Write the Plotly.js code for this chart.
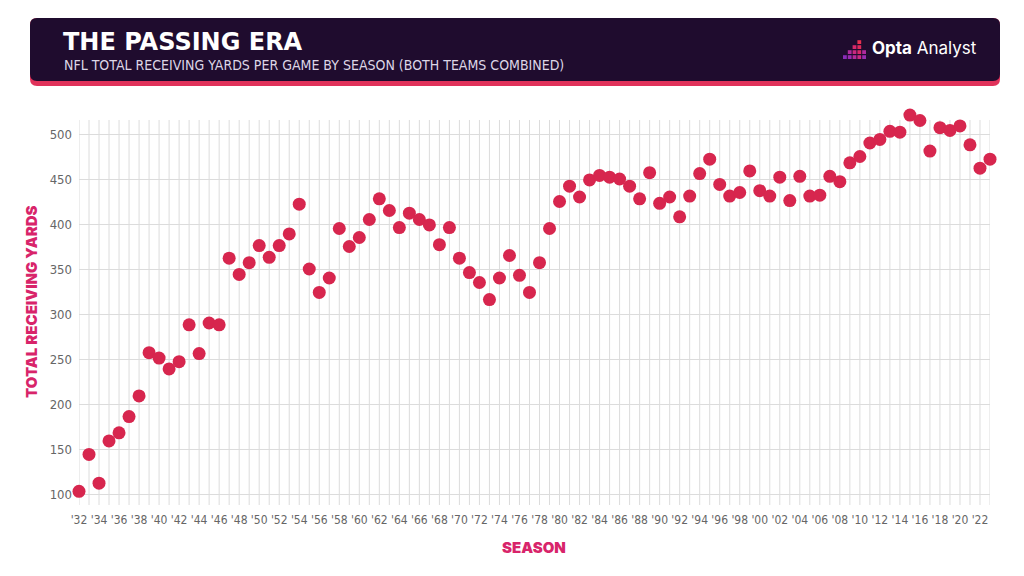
<!DOCTYPE html>
<html>
<head>
<meta charset="utf-8">
<script src="https://cdn.plot.ly/plotly-3.0.1.min.js"></script>
<style>
html,body{margin:0;padding:0;background:#ffffff;}
#chart{width:1024px;height:576px;}
</style>
</head>
<body>
<div id="chart"></div>
<script>
// ---- DATA ----
const seasons = [];
for (let y = 1932; y <= 2023; y++) seasons.push(y);

const receivingYards = [
  103, 144, 112, 159, 168, 186, 209, 257, 251, 239,   // 1932-1941
  247, 288, 256, 290, 288, 362, 344, 357, 376, 363,   // 1942-1951
  376, 389, 422, 350, 324, 340, 395, 375, 385, 405,   // 1952-1961
  428, 415, 396, 412, 405, 399, 377, 396, 362, 346,   // 1962-1971
  335, 316, 340, 365, 343, 324, 357, 395, 425, 442,   // 1972-1981
  430, 449, 454, 452, 450, 442, 428, 457, 423, 430,   // 1982-1991
  408, 431, 456, 472, 444, 431, 435, 459, 437, 431,   // 1992-2001
  452, 426, 453, 431, 432, 453, 447, 468, 475, 490,   // 2002-2011
  494, 503, 502, 521, 515, 481, 507, 504, 509, 488,   // 2012-2021
  462, 472                                            // 2022-2023
];

const yTickVals = [100, 150, 200, 250, 300, 350, 400, 450, 500];
const xTickVals = seasons;
const xTickText = seasons.map(y => (y % 2 === 0) ? "'" + String(y).slice(2) : "");

const titleText = "THE PASSING ERA";
const subtitleText = "NFL TOTAL RECEIVING YARDS PER GAME BY SEASON (BOTH TEAMS COMBINED)";
const yTitleText = "TOTAL RECEIVING YARDS";
const xTitleText = "SEASON";

// ---- LAYOUT HELPERS ----
const W = 1024, H = 576;
const M = {l: 79, r: 34, t: 100, b: 71};
const PW = W - M.l - M.r, PH = H - M.t - M.b;
const px = x => (x - M.l) / PW;
const py = y => (H - M.b - y) / PH;
// y value range chosen so 100 sits at y=494 and 500 at y=134 (0.9 px per yard)
const yBottom = 100 - (H - M.b - 494) / 0.9;
const yTop = 100 + (494 - M.t) / 0.9;

function roundRect(x0, y0, x1, y1, r) {
  const X0 = px(x0), X1 = px(x1), Y0 = py(y0), Y1 = py(y1);
  const rx = r / PW, ry = r / PH;
  return `M ${X0 + rx},${Y0} L ${X1 - rx},${Y0} Q ${X1},${Y0} ${X1},${Y0 - ry} ` +
         `L ${X1},${Y1 + ry} Q ${X1},${Y1} ${X1 - rx},${Y1} ` +
         `L ${X0 + rx},${Y1} Q ${X0},${Y1} ${X0},${Y1 + ry} ` +
         `L ${X0},${Y0 - ry} Q ${X0},${Y0} ${X0 + rx},${Y0} Z`;
}

const condensed = "'Liberation Sans Narrow', 'DejaVu Sans Condensed', 'Roboto Condensed', Roboto, sans-serif";
const heavy = "Inter, 'Noto Sans', 'DejaVu Sans', sans-serif";
const pink = "#d8246a";
const dotColor = "#d7264e";

const shapes = [];
// vertical season gridlines (from y=120 to y=505 px)
seasons.forEach(s => {
  shapes.push({type: 'line', xref: 'x', yref: 'paper', x0: s, x1: s,
    y0: py(505), y1: py(120), line: {color: '#dcdcdc', width: 1}, layer: 'below'});
});
shapes.push(
  {type: 'path', xref: 'paper', yref: 'paper', path: roundRect(30, 18, 1000, 86, 7),
   fillcolor: '#e0325a', line: {width: 0}, layer: 'above'},
  {type: 'path', xref: 'paper', yref: 'paper', path: roundRect(30, 18, 1000, 81, 7),
   fillcolor: '#1f0c2e', line: {width: 0}, layer: 'above'}
);

// logo icon: small squares (pixel stair)
const iconCells = [
  [0, 0, '#8a2bb8'],
  [1, 0, '#9a2bb0'], [1, 1, '#b02a9e'],
  [2, 0, '#b52a98'], [2, 1, '#c8297f'], [2, 2, '#d8286a'],
  [3, 0, '#c92a80'], [3, 1, '#d8286a'], [3, 2, '#e02a5a'], [3, 3, '#e8304f'],
  [4, 0, '#9a2bb0'], [4, 1, '#b02a9e']
];
iconCells.forEach(c => {
  const x0 = 843 + c[0] * 4.8, y1 = 59 - c[1] * 5;
  shapes.push({type: 'rect', xref: 'paper', yref: 'paper',
    x0: px(x0), x1: px(x0 + 3.8), y0: py(y1), y1: py(y1 - 3.8),
    fillcolor: c[2], line: {width: 0}, layer: 'above'});
});

const annotations = [
  {xref: 'paper', yref: 'paper', x: px(61), y: py(42), xanchor: 'left', yanchor: 'middle',
   text: titleText, showarrow: false,
   font: {family: "'DejaVu Sans', Inter, sans-serif", size: 24, color: '#ffffff', weight: 700}},
  {xref: 'paper', yref: 'paper', x: px(62), y: py(65), xanchor: 'left', yanchor: 'middle',
   text: subtitleText, showarrow: false,
   font: {family: condensed, size: 14, color: '#ddd6e6'}},
  {xref: 'paper', yref: 'paper', x: px(870), y: py(48), xanchor: 'left', yanchor: 'middle',
   text: '<b>Opta</b> Analyst', showarrow: false,
   font: {family: "Inter, 'Open Sans', sans-serif", size: 17, color: '#ffffff'}},
  {xref: 'paper', yref: 'paper', x: px(31), y: py(302), xanchor: 'center', yanchor: 'middle',
   text: yTitleText, textangle: -90, showarrow: false,
   font: {family: heavy, size: 15, color: pink, weight: 900}},
  {xref: 'paper', yref: 'paper', x: px(534), y: py(547), xanchor: 'center', yanchor: 'middle',
   text: xTitleText, showarrow: false,
   font: {family: heavy, size: 15, color: pink, weight: 900}}
];

const trace = {
  type: 'scatter', mode: 'markers',
  x: seasons, y: receivingYards,
  marker: {color: dotColor, size: 13, line: {width: 0}},
  cliponaxis: false, hoverinfo: 'x+y'
};

const layout = {
  width: W, height: H,
  margin: M,
  paper_bgcolor: '#ffffff', plot_bgcolor: '#ffffff',
  showlegend: false,
  xaxis: {
    range: [1932, 2023], tickvals: xTickVals, ticktext: xTickText,
    showgrid: false,
    zeroline: false, showline: false, ticks: '',
    tickangle: 0, ticklabelstandoff: 6,
    tickfont: {family: condensed, size: 12, color: '#666666'}
  },
  yaxis: {
    range: [yBottom, yTop], tickvals: yTickVals,
    showgrid: true, gridcolor: '#dcdcdc', gridwidth: 1,
    zeroline: false, showline: false, ticks: '',
    ticklabelstandoff: 6,
    tickfont: {family: condensed, size: 13, color: '#666666'}
  },
  shapes: shapes,
  annotations: annotations
};

Plotly.newPlot('chart', [trace], layout, {displayModeBar: false, staticPlot: true});
</script>
</body>
</html>
